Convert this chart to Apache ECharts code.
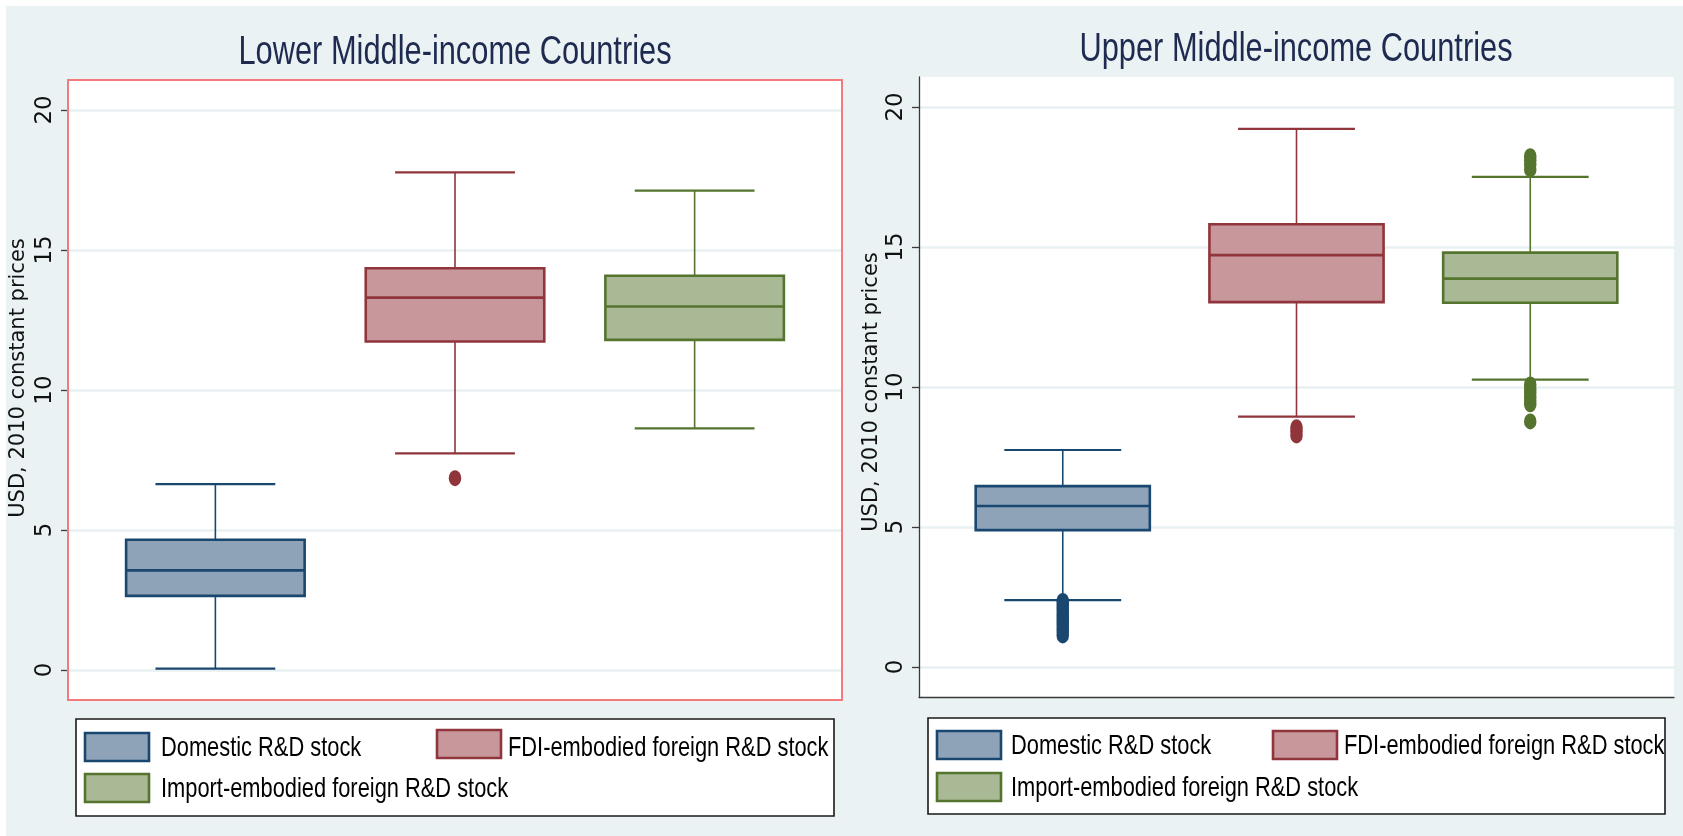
<!DOCTYPE html>
<html>
<head>
<meta charset="utf-8">
<title>R&amp;D stock by income group</title>
<script src="https://cdn.jsdelivr.net/npm/echarts@6/dist/echarts.min.js"></script>
<style>
  html, body { margin: 0; padding: 0; background: #ffffff; }
  #chart { width: 1683px; height: 836px; }
</style>
</head>
<body>
<div id="chart"></div>
<script>
// ---- data -------------------------------------------------------------
const groups = ['Domestic R&D stock', 'FDI-embodied foreign R&D stock', 'Import-embodied foreign R&D stock'];
const panelTitles = ['Lower Middle-income Countries', 'Upper Middle-income Countries'];
const yAxisTitle = 'USD, 2010 constant prices';
const yTicks = [0, 5, 10, 15, 20];

// per group: [lower adjacent, q1, median, q3, upper adjacent]
const lowerStats = [
  [0.05, 2.65, 3.56, 4.65, 6.64],
  [7.74, 11.73, 13.30, 14.35, 17.77],
  [8.63, 11.79, 12.98, 14.08, 17.12]
];
const lowerOutliers = [
  [],
  [6.85],
  []
];
const upperStats = [
  [2.39, 4.89, 5.75, 6.46, 7.75],
  [8.94, 13.03, 14.71, 15.81, 19.22],
  [10.26, 13.01, 13.87, 14.80, 17.50]
];
const upperOutliers = [
  [2.36, 2.25, 2.12, 2.00, 1.88, 1.75, 1.62, 1.50, 1.38, 1.25, 1.13],
  [8.56, 8.42, 8.27],
  [18.24, 18.10, 17.95, 17.77, 10.09, 9.95, 9.80, 9.65, 9.50, 9.38, 8.77]
];

// ---- styling ----------------------------------------------------------
const lineColors = ['#1a476f', '#90353b', '#55752f'];
const fillColors = ['#8ea3b8', '#c7979b', '#aab995'];
const BOX_W = 0.745;
const CAP_W = 0.5;
const SANS = '"Liberation Sans", Arial, sans-serif';
const CONDENSE = 0.77;   // horizontal squeeze for titles and legend keys

// panel geometry (grid rectangles)
const panels = [
  { left: 68, top: 80, width: 774, height: 620, titleX: 455, titleY: 53, axisTitleX: 19, axisTitleY: 378,
    legend: { x: 76, y: 719, w: 758, h: 97,
      items: [ { sx: 85, sy: 733, tx: 161, ty: 748 }, { sx: 437, sy: 730, tx: 508, ty: 748 }, { sx: 85, sy: 774, tx: 161, ty: 789 } ] } },
  { left: 919, top: 77, width: 755, height: 620, titleX: 1296, titleY: 50, axisTitleX: 872, axisTitleY: 392,
    legend: { x: 928, y: 718, w: 737, h: 96,
      items: [ { sx: 937, sy: 731, tx: 1011, ty: 746 }, { sx: 1273, sy: 731, tx: 1344, ty: 746 }, { sx: 937, sy: 773, tx: 1011, ty: 788 } ] } }
];
const statsByPanel = [lowerStats, upperStats];
const outliersByPanel = [lowerOutliers, upperOutliers];

// ---- box drawing via custom series ------------------------------------
function renderBox(params, api) {
  const i = params.dataIndex;
  const x = api.value(0);
  const pLo = api.coord([x, api.value(1)]);
  const pQ1 = api.coord([x, api.value(2)]);
  const pMed = api.coord([x, api.value(3)]);
  const pQ3 = api.coord([x, api.value(4)]);
  const pHi = api.coord([x, api.value(5)]);
  const half = api.size([BOX_W, 0])[0] / 2;
  const capHalf = api.size([CAP_W, 0])[0] / 2;
  const c = pMed[0];
  const stroke = lineColors[i];
  return {
    type: 'group',
    children: [
      { type: 'line', shape: { x1: c, y1: pHi[1], x2: c, y2: pQ3[1] }, style: { stroke: stroke, lineWidth: 1.6 } },
      { type: 'line', shape: { x1: c, y1: pQ1[1], x2: c, y2: pLo[1] }, style: { stroke: stroke, lineWidth: 1.6 } },
      { type: 'line', shape: { x1: c - capHalf, y1: pHi[1], x2: c + capHalf, y2: pHi[1] }, style: { stroke: stroke, lineWidth: 2.2 } },
      { type: 'line', shape: { x1: c - capHalf, y1: pLo[1], x2: c + capHalf, y2: pLo[1] }, style: { stroke: stroke, lineWidth: 2.2 } },
      { type: 'rect', shape: { x: c - half, y: pQ3[1], width: half * 2, height: pQ1[1] - pQ3[1] },
        style: { fill: fillColors[i], stroke: stroke, lineWidth: 2.6 } },
      { type: 'line', shape: { x1: c - half, y1: pMed[1], x2: c + half, y2: pMed[1] }, style: { stroke: stroke, lineWidth: 2.6 } }
    ]
  };
}

const grids = [], xAxes = [], yAxes = [], series = [], graphics = [];

// white margin at the top and left edges
graphics.push({ type: 'rect', shape: { x: 0, y: 0, width: 1683, height: 6 }, style: { fill: '#ffffff' }, silent: true });
graphics.push({ type: 'rect', shape: { x: 0, y: 0, width: 6, height: 836 }, style: { fill: '#ffffff' }, silent: true });

panels.forEach(function (p, k) {
  grids.push({ left: p.left, top: p.top, width: p.width, height: p.height, show: true,
    backgroundColor: '#ffffff', borderWidth: 0, containLabel: false });
  xAxes.push({
    type: 'value', gridIndex: k, min: 0.385, max: 3.615,
    axisLine: { show: k === 1, onZero: false, lineStyle: { color: '#3a3a3a', width: 1.3 } },
    axisTick: { show: false }, axisLabel: { show: false }, splitLine: { show: false }
  });
  yAxes.push({
    type: 'value', gridIndex: k, min: -1.07, max: 21.07,
    axisLine: { show: k === 1, lineStyle: { color: '#3a3a3a', width: 1.3 } },
    axisTick: { show: true, length: 7, customValues: yTicks, lineStyle: { color: '#3a3a3a', width: 1.3 } },
    axisLabel: { customValues: yTicks, rotate: 90, margin: 11, color: '#111111',
      fontFamily: '"DejaVu Sans", sans-serif', fontSize: 23 },
    splitLine: { show: true, lineStyle: { color: '#e8f0f2', width: 2.5 } }
  });
  series.push({
    type: 'custom', xAxisIndex: k, yAxisIndex: k, renderItem: renderBox, z: 3,
    encode: { x: 0, y: [1, 2, 3, 4, 5] },
    data: statsByPanel[k].map(function (s, i) { return [i + 1].concat(s); })
  });
  const pts = [];
  outliersByPanel[k].forEach(function (vals, i) {
    vals.forEach(function (v) { pts.push({ value: [i + 1, v], itemStyle: { color: lineColors[i] } }); });
  });
  series.push({
    type: 'scatter', xAxisIndex: k, yAxisIndex: k, z: 5, symbol: 'circle', symbolSize: [12.5, 16],
    data: pts, itemStyle: { opacity: 1 }, emphasis: { disabled: true }
  });

  // panel title
  graphics.push({ type: 'text', x: p.titleX, y: p.titleY, scaleX: CONDENSE, silent: true,
    style: { text: panelTitles[k], font: '40px ' + SANS, fill: '#1e2a50',
      align: 'center', verticalAlign: 'middle', textAlign: 'center', textVerticalAlign: 'middle' } });
  // y axis title
  graphics.push({ type: 'text', x: p.axisTitleX, y: p.axisTitleY, rotation: Math.PI / 2, silent: true,
    style: { text: yAxisTitle, font: '21px "DejaVu Sans", sans-serif', fill: '#111111',
      align: 'center', verticalAlign: 'middle', textAlign: 'center', textVerticalAlign: 'middle' } });
  // legend frame
  const L = p.legend;
  graphics.push({ type: 'rect', shape: { x: L.x, y: L.y, width: L.w, height: L.h }, silent: true,
    style: { fill: '#ffffff', stroke: '#1a1a1a', lineWidth: 1.6 } });
  L.items.forEach(function (it, i) {
    graphics.push({ type: 'rect', shape: { x: it.sx, y: it.sy, width: 64, height: 28 }, silent: true,
      style: { fill: fillColors[i], stroke: lineColors[i], lineWidth: 2.6 } });
    graphics.push({ type: 'text', x: it.tx, y: it.ty, scaleX: 0.78, silent: true,
      style: { text: groups[i], font: '28px ' + SANS, fill: '#000000',
        align: 'left', verticalAlign: 'middle', textAlign: 'left', textVerticalAlign: 'middle' } });
  });
});

// highlighted frame round the left panel
graphics.push({ type: 'rect', z: 100, silent: true,
  shape: { x: panels[0].left, y: panels[0].top, width: panels[0].width, height: panels[0].height },
  style: { fill: 'none', stroke: '#f37b7b', lineWidth: 2 } });

const chart = echarts.init(document.getElementById('chart'), null, { renderer: 'canvas' });
chart.setOption({
  backgroundColor: '#eaf2f3',
  animation: false,
  grid: grids,
  xAxis: xAxes,
  yAxis: yAxes,
  series: series,
  graphic: { elements: graphics }
});
</script>
</body>
</html>
